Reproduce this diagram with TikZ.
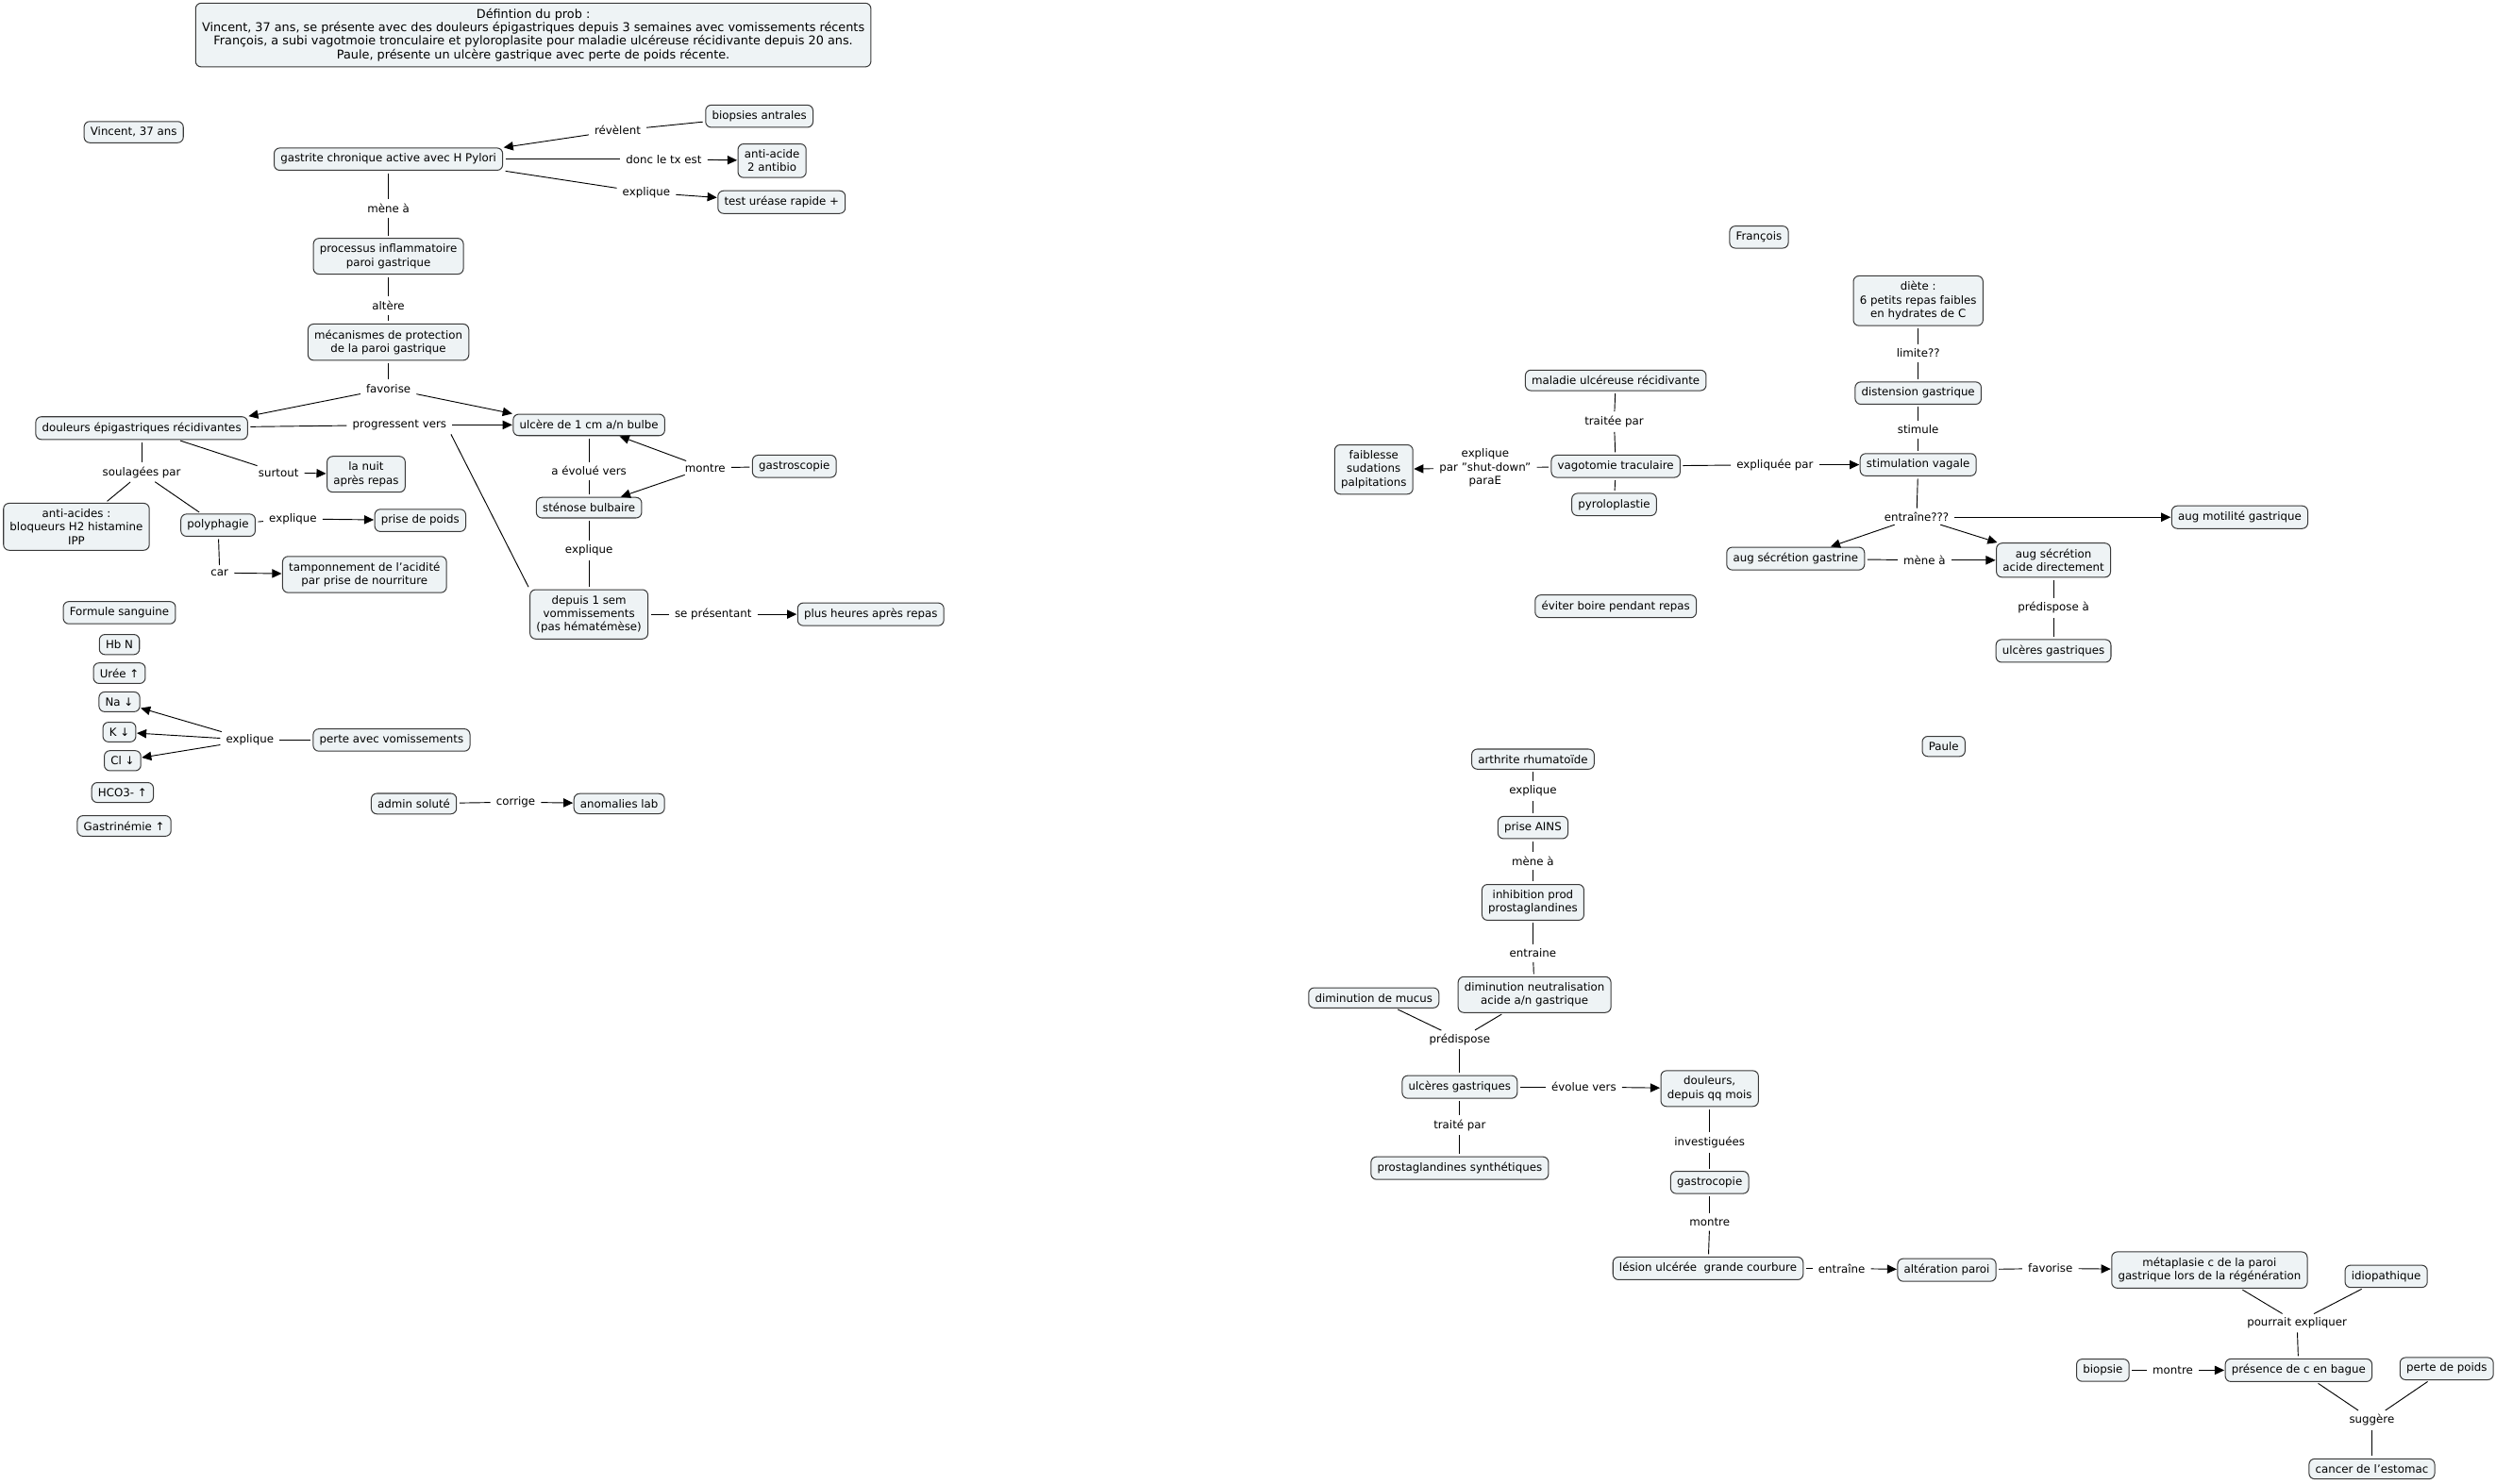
\documentclass[tikz,border=0pt]{standalone}
\usepackage{fontspec}
\setmainfont{DejaVu Sans}
\usetikzlibrary{arrows.meta}
\definecolor{conceptfill}{HTML}{EEF3F5}
\definecolor{conceptdraw}{HTML}{3A3A3A}

\begin{document}
\begin{tikzpicture}[
  x=1pt, y=-1pt,
  font=\fontsize{7}{8.5}\selectfont,
  concept/.style={draw=conceptdraw, fill=conceptfill, rounded corners=3.5pt, align=center, inner xsep=4pt, inner ysep=3.6pt, line width=0.6pt},
  link/.style={align=center, inner xsep=2pt, inner ysep=1.2pt},
  line/.style={line width=0.55pt, shorten <=1.5pt, shorten >=1.5pt},
  arrow/.style={line width=0.55pt, shorten <=1.5pt, shorten >=0.3pt, -{Triangle[length=6pt,width=5.5pt]}}
]
\useasboundingbox (0,0) rectangle (1568,932);

\node (title) [concept, font=\fontsize{7.6}{8.4}\selectfont] at (335,22) {Défintion du prob :\\Vincent, 37 ans, se présente avec des douleurs épigastriques depuis 3 semaines avec vomissements récents\\François, a subi vagotmoie tronculaire et pyloroplasite pour maladie ulcéreuse récidivante depuis 20 ans.\\Paule, présente un ulcère gastrique avec perte de poids récente.};

\node (vincent) [concept] at (84,83) {Vincent, 37 ans};
\node (gastrite) [concept] at (244,100) {gastrite chronique active avec H Pylori};
\node (biopsies) [concept] at (477,73) {biopsies antrales};
\node (antiacide) [concept] at (485,101) {anti-acide\\2 antibio};
\node (urease) [concept] at (491,127) {test uréase rapide +};
\node (processus) [concept] at (244,161) {processus inflammatoire\\paroi gastrique};
\node (mecanismes) [concept] at (244,215) {mécanismes de protection\\de la paroi gastrique};
\node (douleurs) [concept] at (89,269) {douleurs épigastriques récidivantes};
\node (ulcere) [concept] at (370,267) {ulcère de 1 cm a/n bulbe};
\node (nuit) [concept] at (230,298) {la nuit\\après repas};
\node (antiacides) [concept] at (48,331) {anti-acides :\\bloqueurs H2 histamine\\IPP};
\node (polyphagie) [concept] at (137,330) {polyphagie};
\node (poids) [concept] at (264,327) {prise de poids};
\node (tampon) [concept] at (229,361) {tamponnement de l'acidité\\par prise de nourriture};
\node (gastroscopie) [concept] at (499,293) {gastroscopie};
\node (stenose) [concept] at (370,319) {sténose bulbaire};
\node (vomiss) [concept] at (370,386) {depuis 1 sem\\vommissements\\(pas hématémèse)};
\node (heures) [concept] at (547,386) {plus heures après repas};
\node (formule) [concept] at (75,385) {Formule sanguine};
\node (hb) [concept] at (75,405) {Hb N};
\node (uree) [concept] at (75,423) {Urée ↑};
\node (na) [concept] at (75,441) {Na ↓};
\node (k) [concept] at (75,460) {K ↓};
\node (cl) [concept] at (77,478) {Cl ↓};
\node (hco) [concept] at (77,498) {HCO3- ↑};
\node (gastrinemie) [concept] at (78,519) {Gastrinémie ↑};
\node (perte) [concept] at (246,465) {perte avec vomissements};
\node (admin) [concept] at (260,505) {admin soluté};
\node (anomalies) [concept] at (389,505) {anomalies lab};

\node (revelent) [link] at (388,82) {révèlent};
\node (donc) [link] at (417,100) {donc le tx est};
\node (expliqueA) [link] at (406,121) {explique};
\node (meneA) [link] at (244,131) {mène à};
\node (altere) [link] at (244,192) {altère};
\node (favoriseA) [link] at (244,244) {favorise};
\node (progressent) [link] at (251,267) {progressent vers};
\node (soulagees) [link] at (89,297) {soulagées par};
\node (surtout) [link] at (175,297) {surtout};
\node (expliqueB) [link] at (184,326) {explique};
\node (car) [link] at (138,360) {car};
\node (evolueA) [link] at (370,296) {a évolué vers};
\node (montreA) [link] at (443,294) {montre};
\node (expliqueC) [link] at (370,346) {explique};
\node (presentant) [link] at (448,386) {se présentant};
\node (expliqueD) [link] at (157,465) {explique};
\node (corrige) [link] at (324,504) {corrige};

\draw[line] (biopsies) -- (revelent);
\draw[arrow] (revelent) -- (gastrite.north east);
\draw[line] (gastrite) -- (donc);
\draw[arrow] (donc) -- (antiacide);
\draw[line] (gastrite.south east) -- (expliqueA);
\draw[arrow] (expliqueA) -- (urease);
\draw[line] (gastrite) -- (meneA);
\draw[line] (meneA) -- (processus);
\draw[line] (processus) -- (altere);
\draw[line] (altere) -- (mecanismes);
\draw[line] (mecanismes) -- (favoriseA);
\draw[arrow] (favoriseA) -- (douleurs.north east);
\draw[arrow] (favoriseA) -- (ulcere.north west);
\draw[line] (douleurs) -- (progressent);
\draw[arrow] (progressent) -- (ulcere);
\draw[line] (progressent.south east) -- (vomiss.north west);
\draw[line] (douleurs) -- (soulagees);
\draw[line] (soulagees) -- (antiacides);
\draw[line] (soulagees) -- (polyphagie);
\draw[line] (douleurs) -- (surtout);
\draw[arrow] (surtout) -- (nuit);
\draw[line] (polyphagie) -- (expliqueB);
\draw[arrow] (expliqueB) -- (poids);
\draw[line] (polyphagie) -- (car);
\draw[arrow] (car) -- (tampon);
\draw[line] (ulcere) -- (evolueA);
\draw[line] (evolueA) -- (stenose);
\draw[line] (gastroscopie) -- (montreA);
\draw[arrow] (montreA) -- (ulcere);
\draw[arrow] (montreA) -- (stenose);
\draw[line] (stenose) -- (expliqueC);
\draw[line] (expliqueC) -- (vomiss);
\draw[line] (vomiss) -- (presentant);
\draw[arrow] (presentant) -- (heures);
\draw[line] (perte) -- (expliqueD);
\draw[arrow] (expliqueD) -- (na);
\draw[arrow] (expliqueD) -- (k);
\draw[arrow] (expliqueD) -- (cl);
\draw[line] (admin) -- (corrige);
\draw[arrow] (corrige) -- (anomalies);

\node (francois) [concept] at (1105,149) {François};
\node (diete) [concept] at (1205,189) {diète :\\6 petits repas faibles\\en hydrates de C};
\node (distension) [concept] at (1205,247) {distension gastrique};
\node (stimulation) [concept] at (1205,292) {stimulation vagale};
\node (maladie) [concept] at (1015,239) {maladie ulcéreuse récidivante};
\node (vagotomie) [concept] at (1015,293) {vagotomie traculaire};
\node (pyroloplastie) [concept] at (1014,317) {pyroloplastie};
\node (faiblesse) [concept] at (863,295) {faiblesse\\sudations\\palpitations};
\node (motilite) [concept] at (1407,325) {aug motilité gastrique};
\node (gastrine) [concept] at (1128,351) {aug sécrétion gastrine};
\node (acide) [concept] at (1290,352) {aug sécrétion\\acide directement};
\node (ulceresA) [concept] at (1290,409) {ulcères gastriques};
\node (eviter) [concept] at (1015,381) {éviter boire pendant repas};

\node (limite) [link] at (1205,222) {limite??};
\node (stimule) [link] at (1205,270) {stimule};
\node (traitee) [link] at (1014,265) {traitée par};
\node (expliqueE) [link] at (933,294) {explique\\par "shut-down"\\paraE};
\node (expliqueepar) [link] at (1115,292) {expliquée par};
\node (entraineA) [link] at (1204,325) {entraîne???};
\node (meneB) [link] at (1209,352) {mène à};
\node (predisposeA) [link] at (1290,382) {prédispose à};

\draw[line] (diete) -- (limite);
\draw[line] (limite) -- (distension);
\draw[line] (distension) -- (stimule);
\draw[line] (stimule) -- (stimulation);
\draw[line] (maladie) -- (traitee);
\draw[line] (traitee) -- (vagotomie);
\draw[line] (vagotomie) -- (pyroloplastie);
\draw[line] (vagotomie) -- (expliqueE);
\draw[arrow] (expliqueE) -- (faiblesse);
\draw[line] (vagotomie) -- (expliqueepar);
\draw[arrow] (expliqueepar) -- (stimulation);
\draw[line] (stimulation) -- (entraineA);
\draw[arrow] (entraineA) -- (motilite);
\draw[arrow] (entraineA) -- (gastrine);
\draw[arrow] (entraineA) -- (acide);
\draw[line] (gastrine) -- (meneB);
\draw[arrow] (meneB) -- (acide);
\draw[line] (acide) -- (predisposeA);
\draw[line] (predisposeA) -- (ulceresA);

\node (paule) [concept] at (1221,469) {Paule};
\node (arthrite) [concept] at (963,477) {arthrite rhumatoïde};
\node (ains) [concept] at (963,520) {prise AINS};
\node (inhibition) [concept] at (963,567) {inhibition prod\\prostaglandines};
\node (diminution) [concept] at (964,625) {diminution neutralisation\\acide a/n gastrique};
\node (mucus) [concept] at (863,627) {diminution de mucus};
\node (ulceresB) [concept] at (917,683) {ulcères gastriques};
\node (douleursqq) [concept] at (1074,684) {douleurs,\\depuis qq mois};
\node (prostasyn) [concept] at (917,734) {prostaglandines synthétiques};
\node (gastrocopie) [concept] at (1074,743) {gastrocopie};
\node (lesion) [concept] at (1073,797) {lésion ulcérée \ grande courbure};
\node (alteration) [concept] at (1223,798) {altération paroi};
\node (metaplasie) [concept] at (1388,798) {métaplasie c de la paroi\\gastrique lors de la régénération};
\node (idiopathique) [concept] at (1499,802) {idiopathique};
\node (biopsie) [concept] at (1321,861) {biopsie};
\node (presence) [concept] at (1444,861) {présence de c en bague};
\node (pertepoids) [concept] at (1537,860) {perte de poids};
\node (cancer) [concept] at (1490,923) {cancer de l'estomac};

\node (expliqueF) [link] at (963,497) {explique};
\node (meneC) [link] at (963,541) {mène à};
\node (entraineB) [link] at (963,599) {entraine};
\node (predisposeB) [link] at (917,653) {prédispose};
\node (evolueB) [link] at (995,683) {évolue vers};
\node (traitepar) [link] at (917,707) {traité par};
\node (investiguees) [link] at (1074,718) {investiguées};
\node (montreB) [link] at (1074,768) {montre};
\node (entraineC) [link] at (1157,797) {entraîne};
\node (favoriseB) [link] at (1288,797) {favorise};
\node (pourrait) [link] at (1443,831) {pourrait expliquer};
\node (montreC) [link] at (1365,861) {montre};
\node (suggere) [link] at (1490,892) {suggère};

\draw[line] (arthrite) -- (expliqueF);
\draw[line] (expliqueF) -- (ains);
\draw[line] (ains) -- (meneC);
\draw[line] (meneC) -- (inhibition);
\draw[line] (inhibition) -- (entraineB);
\draw[line] (entraineB) -- (diminution);
\draw[line] (mucus) -- (predisposeB);
\draw[line] (diminution) -- (predisposeB);
\draw[line] (predisposeB) -- (ulceresB);
\draw[line] (ulceresB) -- (evolueB);
\draw[arrow] (evolueB) -- (douleursqq);
\draw[line] (ulceresB) -- (traitepar);
\draw[line] (traitepar) -- (prostasyn);
\draw[line] (douleursqq) -- (investiguees);
\draw[line] (investiguees) -- (gastrocopie);
\draw[line] (gastrocopie) -- (montreB);
\draw[line] (montreB) -- (lesion);
\draw[line] (lesion) -- (entraineC);
\draw[arrow] (entraineC) -- (alteration);
\draw[line] (alteration) -- (favoriseB);
\draw[arrow] (favoriseB) -- (metaplasie);
\draw[line] (metaplasie) -- (pourrait);
\draw[line] (idiopathique) -- (pourrait);
\draw[line] (pourrait) -- (presence);
\draw[line] (biopsie) -- (montreC);
\draw[arrow] (montreC) -- (presence);
\draw[line] (presence) -- (suggere);
\draw[line] (pertepoids) -- (suggere);
\draw[line] (suggere) -- (cancer);
\end{tikzpicture}
\end{document}
